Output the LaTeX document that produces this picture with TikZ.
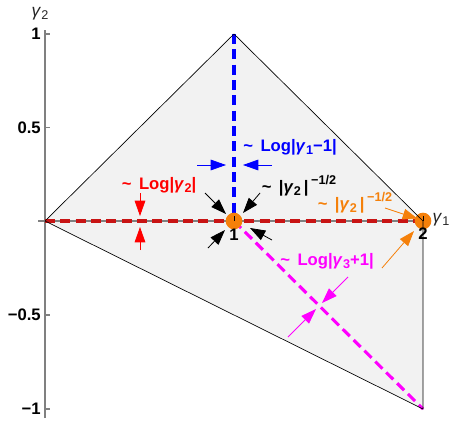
\documentclass[tikz,border=0pt]{standalone}
\usepackage{fontspec}
\setmainfont{Liberation Sans}
\usetikzlibrary{arrows.meta}
\definecolor{fillg}{RGB}{242,242,242}
\definecolor{axg}{RGB}{128,128,128}
\definecolor{dred}{RGB}{200,20,20}
\definecolor{mOrange}{RGB}{245,128,10}
\definecolor{mMag}{RGB}{255,0,255}
\newcommand\gs[1]{\textit{γ}\kern0.2pt\raisebox{-0.35ex}{\fontsize{9.5}{9.5}\selectfont #1}}
\newcommand\supsc[1]{\raisebox{0.85ex}{\fontsize{9.5}{9.5}\selectfont #1}}
\newcommand\tl{\textasciitilde\hspace{0.45em}}
\begin{document}
\begin{tikzpicture}[x=0.75pt,y=-0.75pt,
  font=\fontsize{12.5}{14}\selectfont\bfseries,
  lbl/.style={inner sep=0pt},
  arr/.style={-{Triangle[length=11.5pt,width=8pt]}, line width=0.6pt},
  dsh/.style={line width=2.3pt, dash pattern=on 7.5pt off 4pt},
  axis/.style={axg, line width=1.3pt}]
\useasboundingbox (0,0) rectangle (453,421);
\coordinate (O) at (45,221);
\coordinate (T) at (234,34);
\coordinate (P1) at (234,221);
\coordinate (P2) at (423,221);
\coordinate (B) at (423,409);
\coordinate (xl) at (38,221);
\coordinate (xr) at (428,221);
\coordinate (yb) at (45,418);
\coordinate (yt) at (45,30);
% region
\fill[fillg] (O) -- (T) -- (P2) -- (B) -- cycle;
% axes
\draw[axis] (xl) -- (xr);
\draw[axis] (yb) -- (yt);
\foreach \yy in {34,127.5,315,409} \draw[axg, line width=0.8pt] (45,\yy) -- (50,\yy);
% dashed lines
\draw[dsh, dred] (O) -- (P2);
\draw[dsh, blue] (T) -- (P1);
\draw[dsh, mMag] (P1) -- (B);
% points
\node[circle, fill=mOrange, inner sep=0pt, minimum size=12.5pt] (c1) at (P1) {};
\node[circle, fill=mOrange, inner sep=0pt, minimum size=12.5pt] (c2) at (P2) {};
% outline
\draw[black, line width=0.5pt] (O) -- (T) -- (P2) -- (B) -- cycle;
\draw[black, line width=0.6pt] (P1) -- ++(0,-5);
\draw[black, line width=0.6pt] (P2) -- ++(0,-5);
% tick labels
\node[lbl, anchor=east] (t1) at (41,34) {1};
\node[lbl, anchor=east] (t05) at (41,128) {0.5};
\node[lbl, anchor=east] (tm05) at (41,315) {−0.5};
\node[lbl, anchor=east] (tm1) at (41,409) {−1};
\node[lbl, font=\fontsize{13}{14}\selectfont, text=black!85] (ay) at (40,14) {\gs{2}};
\node[lbl, font=\fontsize{13}{14}\selectfont, text=black!85] (ax) at (441,220) {\gs{1}};
\node[lbl] (n1) at (234,235) {1};
\node[lbl] (n2) at (423,234) {2};
% labels
\node[lbl, text=blue] (lb) at (290,147) {\tl Log|\gs{1}−1|};
\node[lbl, text=red] (lr) at (159,185) {\tl Log|\gs{2}|};
\node[lbl, text=black] (lk) at (299,186) {\tl |\gs{2}\,|\,\supsc{−1/2}};
\node[lbl, text=mOrange] (lo) at (355,203) {\tl |\gs{2}\,|\,\supsc{−1/2}};
\node[lbl, text=mMag] (lm) at (327,261) {\tl Log|\gs{3}+1|};
% arrow coordinates
\coordinate (ba1) at (197,165); \coordinate (bb1) at (226,165);
\coordinate (ba2) at (272,165); \coordinate (bb2) at (243,165);
\coordinate (ra1) at (140,193); \coordinate (rb1) at (140,216);
\coordinate (ra2) at (140,250); \coordinate (rb2) at (140,227);
\coordinate (ka1) at (205,193); \coordinate (kb1) at (226,214);
\coordinate (ka2) at (260,193); \coordinate (kb2) at (243,213);
\coordinate (ka3) at (208,248); \coordinate (kb3) at (225,230);
\coordinate (ka4) at (272,240); \coordinate (kb4) at (250,228);
\coordinate (oa1) at (385,208); \coordinate (ob1) at (418,219);
\coordinate (oa2) at (382,268); \coordinate (ob2) at (414,231);
\coordinate (ma1) at (348,277); \coordinate (mb1) at (322,303);
\coordinate (ma2) at (288,337); \coordinate (mb2) at (316,309);
\draw[arr, blue] (ba1) -- (bb1);
\draw[arr, blue] (ba2) -- (bb2);
\draw[arr, red] (ra1) -- (rb1);
\draw[arr, red] (ra2) -- (rb2);
\draw[arr, black] (ka1) -- (kb1);
\draw[arr, black] (ka2) -- (kb2);
\draw[arr, black] (ka3) -- (kb3);
\draw[arr, black] (ka4) -- (kb4);
\draw[arr, mOrange] (oa1) -- (ob1);
\draw[arr, mOrange] (oa2) -- (ob2);
\draw[arr, mMag] (ma1) -- (mb1);
\draw[arr, mMag] (ma2) -- (mb2);
\end{tikzpicture}
\end{document}
